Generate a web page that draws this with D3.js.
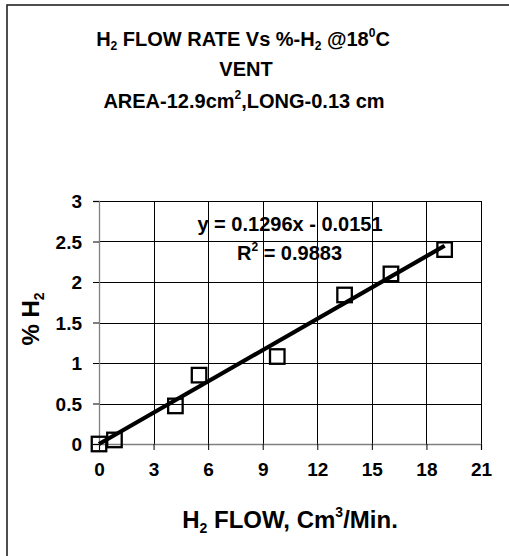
<!DOCTYPE html>
<html>
<head>
<meta charset="utf-8">
<script src="https://cdn.jsdelivr.net/npm/d3@7"></script>
<style>
  body { margin: 0; background: #fff; }
  text { font-family: Arial, "Liberation Sans", sans-serif; font-weight: bold; fill: #000; }
</style>
</head>
<body>
<div id="chart"></div>
<script>
// data
var flow = [0, 0.85, 4.2, 5.5, 9.8, 13.5, 16.05, 19.0];
var pctH2 = [0, 0.05, 0.47, 0.85, 1.08, 1.84, 2.1, 2.4];
var xTicks = [0, 3, 6, 9, 12, 15, 18, 21];
var yTicks = [0, 0.5, 1, 1.5, 2, 2.5, 3];
var slope = 0.1296, intercept = -0.0151;

var svgWidth = 509, svgHeight = 556;
var margin = { top: 201, right: 28, bottom: 112, left: 99 };
var width = svgWidth - margin.left - margin.right;
var height = svgHeight - margin.top - margin.bottom;

var svg = d3.select("#chart").append("svg")
  .attr("width", svgWidth)
  .attr("height", svgHeight);

// outer frame (runs off right & bottom)
svg.append("rect")
  .attr("x", 7).attr("y", 5)
  .attr("width", 520).attr("height", 570)
  .attr("fill", "#fff").attr("stroke", "#222").attr("stroke-width", 1.6);

var g = svg.append("g").attr("transform", `translate(${margin.left},${margin.top})`);

var x = d3.scaleLinear().domain([0, 21]).range([0, width]);
var y = d3.scaleLinear().domain([0, 3]).range([height, 0]);

// grid
g.selectAll(".hgrid").data(yTicks.slice(1)).enter().append("line")
  .attr("x1", 0).attr("x2", width)
  .attr("y1", d => Math.round(y(d)) + 0.5).attr("y2", d => Math.round(y(d)) + 0.5)
  .attr("stroke", "#000").attr("stroke-width", 1);
g.selectAll(".vgrid").data(xTicks.slice(1)).enter().append("line")
  .attr("y1", 0).attr("y2", height)
  .attr("x1", d => Math.round(x(d)) + 0.5).attr("x2", d => Math.round(x(d)) + 0.5)
  .attr("stroke", "#000").attr("stroke-width", 1);

// axes
var xAxis = g.append("g")
  .attr("transform", `translate(0,${height})`)
  .call(d3.axisBottom(x).tickValues(xTicks).tickSize(6).tickPadding(16).tickFormat(d3.format("d")));
var yAxis = g.append("g")
  .call(d3.axisLeft(y).tickValues(yTicks).tickSize(6).tickPadding(11).tickFormat(d => d));
[xAxis, yAxis].forEach(function(a) {
  a.select(".domain").attr("stroke", "#808080").attr("stroke-width", 1.3);
  a.selectAll(".tick line").attr("stroke", "#000");
  a.selectAll("text").attr("font-size", 19).attr("font-family", "Arial, 'Liberation Sans', sans-serif").attr("font-weight", "bold");
});
xAxis.selectAll("text").attr("dy", "0.5em");
yAxis.selectAll("text").attr("dy", "0.35em");

// trendline
g.append("line")
  .attr("x1", x(0)).attr("y1", y(0))
  .attr("x2", x(d3.max(flow))).attr("y2", y(slope * d3.max(flow) + intercept))
  .attr("stroke", "#000").attr("stroke-width", 4.2);

// markers
var sq = 14.5;
g.selectAll(".pt").data(flow).enter().append("rect")
  .attr("x", (d) => x(d) - sq / 2)
  .attr("y", (d, i) => y(pctH2[i]) - sq / 2)
  .attr("width", sq).attr("height", sq)
  .attr("fill", "none").attr("stroke", "#000").attr("stroke-width", 2.3);

// equation
g.append("text").attr("x", 191).attr("y", 29.5).attr("text-anchor", "middle").attr("font-size", 20)
  .text("y = 0.1296x - 0.0151");
var r2 = g.append("text").attr("x", 190.5).attr("y", 58.5).attr("text-anchor", "middle").attr("font-size", 20);
r2.append("tspan").text("R");
r2.append("tspan").attr("font-size", 12).attr("dy", -9).text("2");
r2.append("tspan").attr("dy", 9).text(" = 0.9883");

// title
var t1 = svg.append("text").attr("x", 243).attr("y", 45.5).attr("text-anchor", "middle").attr("font-size", 20);
t1.append("tspan").text("H");
t1.append("tspan").attr("font-size", 12).attr("dy", 4).text("2");
t1.append("tspan").attr("dy", -4).text(" FLOW RATE Vs %-H");
t1.append("tspan").attr("font-size", 12).attr("dy", 4).text("2");
t1.append("tspan").attr("dy", -4).text(" @18");
t1.append("tspan").attr("font-size", 12).attr("dy", -9).text("0");
t1.append("tspan").attr("dy", 9).text("C");

svg.append("text").attr("x", 246).attr("y", 76).attr("text-anchor", "middle").attr("font-size", 20).text("VENT");

var t3 = svg.append("text").attr("x", 244).attr("y", 108).attr("text-anchor", "middle").attr("font-size", 20);
t3.append("tspan").text("AREA-12.9cm");
t3.append("tspan").attr("font-size", 12).attr("dy", -9).text("2");
t3.append("tspan").attr("dy", 9).text(",LONG-0.13 cm");

// x axis title
var xt = svg.append("text").attr("x", 290).attr("y", 528).attr("text-anchor", "middle").attr("font-size", 24);
xt.append("tspan").text("H");
xt.append("tspan").attr("font-size", 14).attr("dy", 5).text("2");
xt.append("tspan").attr("dy", -5).text(" FLOW, Cm");
xt.append("tspan").attr("font-size", 14).attr("dy", -11).text("3");
xt.append("tspan").attr("dy", 11).text("/Min.");

// y axis title
var yt = svg.append("text").attr("transform", "translate(39,319) rotate(-90)").attr("text-anchor", "middle").attr("font-size", 24);
yt.append("tspan").text("% H");
yt.append("tspan").attr("font-size", 14).attr("dy", 5).text("2");
</script>
</body>
</html>
